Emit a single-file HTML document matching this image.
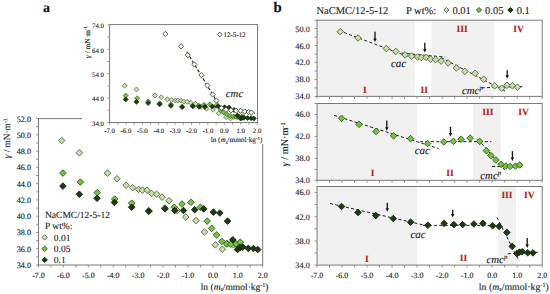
<!DOCTYPE html>
<html><head><meta charset="utf-8"><style>
html,body{margin:0;padding:0;background:#fff;width:550px;height:294px;overflow:hidden}
svg{display:block;font-family:"Liberation Serif",serif;text-rendering:geometricPrecision}
</style></head><body>
<svg width="550" height="294" viewBox="0 0 550 294">
<rect width="550" height="294" fill="#fff"/>
<text x="42.90" y="11.90" font-size="14" text-anchor="start" font-weight="bold" font-style="normal" fill="#111" stroke="#111" stroke-width="0.12" >a</text>
<rect x="38.50" y="118.60" width="224.20" height="146.40" fill="none" stroke="#7a7a7a" stroke-width="1.0"/>
<line x1="36.00" y1="265.00" x2="38.50" y2="265.00" stroke="#7a7a7a" stroke-width="0.8"/><line x1="36.00" y1="256.87" x2="38.50" y2="256.87" stroke="#7a7a7a" stroke-width="0.8"/><line x1="36.00" y1="248.73" x2="38.50" y2="248.73" stroke="#7a7a7a" stroke-width="0.8"/><line x1="36.00" y1="240.60" x2="38.50" y2="240.60" stroke="#7a7a7a" stroke-width="0.8"/><line x1="36.00" y1="232.47" x2="38.50" y2="232.47" stroke="#7a7a7a" stroke-width="0.8"/><line x1="36.00" y1="224.33" x2="38.50" y2="224.33" stroke="#7a7a7a" stroke-width="0.8"/><line x1="36.00" y1="216.20" x2="38.50" y2="216.20" stroke="#7a7a7a" stroke-width="0.8"/><line x1="36.00" y1="208.07" x2="38.50" y2="208.07" stroke="#7a7a7a" stroke-width="0.8"/><line x1="36.00" y1="199.93" x2="38.50" y2="199.93" stroke="#7a7a7a" stroke-width="0.8"/><line x1="36.00" y1="191.80" x2="38.50" y2="191.80" stroke="#7a7a7a" stroke-width="0.8"/><line x1="36.00" y1="183.67" x2="38.50" y2="183.67" stroke="#7a7a7a" stroke-width="0.8"/><line x1="36.00" y1="175.53" x2="38.50" y2="175.53" stroke="#7a7a7a" stroke-width="0.8"/><line x1="36.00" y1="167.40" x2="38.50" y2="167.40" stroke="#7a7a7a" stroke-width="0.8"/><line x1="36.00" y1="159.27" x2="38.50" y2="159.27" stroke="#7a7a7a" stroke-width="0.8"/><line x1="36.00" y1="151.13" x2="38.50" y2="151.13" stroke="#7a7a7a" stroke-width="0.8"/><line x1="36.00" y1="143.00" x2="38.50" y2="143.00" stroke="#7a7a7a" stroke-width="0.8"/><line x1="36.00" y1="134.87" x2="38.50" y2="134.87" stroke="#7a7a7a" stroke-width="0.8"/><line x1="36.00" y1="126.73" x2="38.50" y2="126.73" stroke="#7a7a7a" stroke-width="0.8"/><line x1="36.00" y1="118.60" x2="38.50" y2="118.60" stroke="#7a7a7a" stroke-width="0.8"/>
<line x1="38.50" y1="265.00" x2="38.50" y2="267.50" stroke="#7a7a7a" stroke-width="0.8"/><line x1="50.96" y1="265.00" x2="50.96" y2="267.50" stroke="#7a7a7a" stroke-width="0.8"/><line x1="63.41" y1="265.00" x2="63.41" y2="267.50" stroke="#7a7a7a" stroke-width="0.8"/><line x1="75.87" y1="265.00" x2="75.87" y2="267.50" stroke="#7a7a7a" stroke-width="0.8"/><line x1="88.32" y1="265.00" x2="88.32" y2="267.50" stroke="#7a7a7a" stroke-width="0.8"/><line x1="100.78" y1="265.00" x2="100.78" y2="267.50" stroke="#7a7a7a" stroke-width="0.8"/><line x1="113.23" y1="265.00" x2="113.23" y2="267.50" stroke="#7a7a7a" stroke-width="0.8"/><line x1="125.69" y1="265.00" x2="125.69" y2="267.50" stroke="#7a7a7a" stroke-width="0.8"/><line x1="138.14" y1="265.00" x2="138.14" y2="267.50" stroke="#7a7a7a" stroke-width="0.8"/><line x1="150.60" y1="265.00" x2="150.60" y2="267.50" stroke="#7a7a7a" stroke-width="0.8"/><line x1="163.06" y1="265.00" x2="163.06" y2="267.50" stroke="#7a7a7a" stroke-width="0.8"/><line x1="175.51" y1="265.00" x2="175.51" y2="267.50" stroke="#7a7a7a" stroke-width="0.8"/><line x1="187.97" y1="265.00" x2="187.97" y2="267.50" stroke="#7a7a7a" stroke-width="0.8"/><line x1="200.42" y1="265.00" x2="200.42" y2="267.50" stroke="#7a7a7a" stroke-width="0.8"/><line x1="212.88" y1="265.00" x2="212.88" y2="267.50" stroke="#7a7a7a" stroke-width="0.8"/><line x1="225.33" y1="265.00" x2="225.33" y2="267.50" stroke="#7a7a7a" stroke-width="0.8"/><line x1="237.79" y1="265.00" x2="237.79" y2="267.50" stroke="#7a7a7a" stroke-width="0.8"/><line x1="250.24" y1="265.00" x2="250.24" y2="267.50" stroke="#7a7a7a" stroke-width="0.8"/><line x1="262.70" y1="265.00" x2="262.70" y2="267.50" stroke="#7a7a7a" stroke-width="0.8"/>
<text x="31.00" y="267.90" font-size="8.2" text-anchor="end" font-weight="normal" font-style="normal" fill="#1a1a1a" stroke="#1a1a1a" stroke-width="0.12" >34.0</text>
<text x="31.00" y="251.63" font-size="8.2" text-anchor="end" font-weight="normal" font-style="normal" fill="#1a1a1a" stroke="#1a1a1a" stroke-width="0.12" >36.0</text>
<text x="31.00" y="235.37" font-size="8.2" text-anchor="end" font-weight="normal" font-style="normal" fill="#1a1a1a" stroke="#1a1a1a" stroke-width="0.12" >38.0</text>
<text x="31.00" y="219.10" font-size="8.2" text-anchor="end" font-weight="normal" font-style="normal" fill="#1a1a1a" stroke="#1a1a1a" stroke-width="0.12" >40.0</text>
<text x="31.00" y="202.83" font-size="8.2" text-anchor="end" font-weight="normal" font-style="normal" fill="#1a1a1a" stroke="#1a1a1a" stroke-width="0.12" >42.0</text>
<text x="31.00" y="186.57" font-size="8.2" text-anchor="end" font-weight="normal" font-style="normal" fill="#1a1a1a" stroke="#1a1a1a" stroke-width="0.12" >44.0</text>
<text x="31.00" y="170.30" font-size="8.2" text-anchor="end" font-weight="normal" font-style="normal" fill="#1a1a1a" stroke="#1a1a1a" stroke-width="0.12" >46.0</text>
<text x="31.00" y="154.03" font-size="8.2" text-anchor="end" font-weight="normal" font-style="normal" fill="#1a1a1a" stroke="#1a1a1a" stroke-width="0.12" >48.0</text>
<text x="31.00" y="137.77" font-size="8.2" text-anchor="end" font-weight="normal" font-style="normal" fill="#1a1a1a" stroke="#1a1a1a" stroke-width="0.12" >50.0</text>
<text x="31.00" y="121.50" font-size="8.2" text-anchor="end" font-weight="normal" font-style="normal" fill="#1a1a1a" stroke="#1a1a1a" stroke-width="0.12" >52.0</text>
<text x="38.50" y="277.60" font-size="8" text-anchor="middle" font-weight="normal" font-style="normal" fill="#1a1a1a" stroke="#1a1a1a" stroke-width="0.12" >-7.0</text>
<text x="63.41" y="277.60" font-size="8" text-anchor="middle" font-weight="normal" font-style="normal" fill="#1a1a1a" stroke="#1a1a1a" stroke-width="0.12" >-6.0</text>
<text x="88.32" y="277.60" font-size="8" text-anchor="middle" font-weight="normal" font-style="normal" fill="#1a1a1a" stroke="#1a1a1a" stroke-width="0.12" >-5.0</text>
<text x="113.23" y="277.60" font-size="8" text-anchor="middle" font-weight="normal" font-style="normal" fill="#1a1a1a" stroke="#1a1a1a" stroke-width="0.12" >-4.0</text>
<text x="138.14" y="277.60" font-size="8" text-anchor="middle" font-weight="normal" font-style="normal" fill="#1a1a1a" stroke="#1a1a1a" stroke-width="0.12" >-3.0</text>
<text x="163.06" y="277.60" font-size="8" text-anchor="middle" font-weight="normal" font-style="normal" fill="#1a1a1a" stroke="#1a1a1a" stroke-width="0.12" >-2.0</text>
<text x="187.97" y="277.60" font-size="8" text-anchor="middle" font-weight="normal" font-style="normal" fill="#1a1a1a" stroke="#1a1a1a" stroke-width="0.12" >-1.0</text>
<text x="212.88" y="277.60" font-size="8" text-anchor="middle" font-weight="normal" font-style="normal" fill="#1a1a1a" stroke="#1a1a1a" stroke-width="0.12" >0.0</text>
<text x="237.79" y="277.60" font-size="8" text-anchor="middle" font-weight="normal" font-style="normal" fill="#1a1a1a" stroke="#1a1a1a" stroke-width="0.12" >1.0</text>
<text x="262.70" y="277.60" font-size="8" text-anchor="middle" font-weight="normal" font-style="normal" fill="#1a1a1a" stroke="#1a1a1a" stroke-width="0.12" >2.0</text>
<text x="234.60" y="289.90" font-size="9.5" text-anchor="middle" font-weight="normal" font-style="normal" fill="#1a1a1a" stroke="#1a1a1a" stroke-width="0.12" >ln (<tspan font-style="italic">m</tspan><tspan font-size="6" dy="1.5">s</tspan><tspan dy="-1.5">/mmol·kg</tspan><tspan font-size="6" dy="-3.2">-1</tspan><tspan dy="3.2">)</tspan></text>
<g transform="translate(10.4 138.3) rotate(-90)"><text x="0.00" y="0.00" font-size="9.3" text-anchor="middle" font-weight="normal" font-style="normal" fill="#1a1a1a" stroke="#1a1a1a" stroke-width="0.12" ><tspan font-style="italic">γ</tspan> / mN·m<tspan font-size="5.9" dy="-3.2">-1</tspan></text></g>
<text x="45.00" y="217.70" font-size="9.5" text-anchor="start" font-weight="normal" font-style="normal" fill="#1a1a1a" stroke="#1a1a1a" stroke-width="0.12" >NaCMC/12-5-12</text>
<text x="45.00" y="229.10" font-size="9.5" text-anchor="start" font-weight="normal" font-style="normal" fill="#1a1a1a" stroke="#1a1a1a" stroke-width="0.12" >P wt%:</text>
<path d="M44.70 234.70L47.40 237.40L44.70 240.10L42.00 237.40Z" fill="#c6e0a4" stroke="#52654a" stroke-width="0.9"/>
<text x="53.80" y="240.50" font-size="9.5" text-anchor="start" font-weight="normal" font-style="normal" fill="#1a1a1a" stroke="#1a1a1a" stroke-width="0.12" >0.01</text>
<path d="M44.70 246.00L47.40 248.70L44.70 251.40L42.00 248.70Z" fill="#74c63c" stroke="#3a5a2a" stroke-width="0.9"/>
<text x="53.80" y="251.90" font-size="9.5" text-anchor="start" font-weight="normal" font-style="normal" fill="#1a1a1a" stroke="#1a1a1a" stroke-width="0.12" >0.05</text>
<path d="M44.70 257.20L47.40 259.90L44.70 262.60L42.00 259.90Z" fill="#1d3a12" stroke="#14260c" stroke-width="0.9"/>
<text x="53.80" y="263.30" font-size="9.5" text-anchor="start" font-weight="normal" font-style="normal" fill="#1a1a1a" stroke="#1a1a1a" stroke-width="0.12" >0.1</text>
<path d="M61.67 137.26L64.97 140.56L61.67 143.86L58.37 140.56Z" fill="#c6e0a4" stroke="#52654a" stroke-width="0.9"/>
<path d="M79.35 149.46L82.65 152.76L79.35 156.06L76.05 152.76Z" fill="#c6e0a4" stroke="#52654a" stroke-width="0.9"/>
<path d="M107.50 169.79L110.80 173.09L107.50 176.39L104.20 173.09Z" fill="#c6e0a4" stroke="#52654a" stroke-width="0.9"/>
<path d="M116.97 175.49L120.27 178.79L116.97 182.09L113.67 178.79Z" fill="#c6e0a4" stroke="#52654a" stroke-width="0.9"/>
<path d="M126.19 181.99L129.49 185.29L126.19 188.59L122.89 185.29Z" fill="#c6e0a4" stroke="#52654a" stroke-width="0.9"/>
<path d="M132.66 184.43L135.96 187.73L132.66 191.03L129.36 187.73Z" fill="#c6e0a4" stroke="#52654a" stroke-width="0.9"/>
<path d="M138.64 186.06L141.94 189.36L138.64 192.66L135.34 189.36Z" fill="#c6e0a4" stroke="#52654a" stroke-width="0.9"/>
<path d="M142.38 186.87L145.68 190.17L142.38 193.47L139.08 190.17Z" fill="#c6e0a4" stroke="#52654a" stroke-width="0.9"/>
<path d="M147.11 186.87L150.41 190.17L147.11 193.47L143.81 190.17Z" fill="#c6e0a4" stroke="#52654a" stroke-width="0.9"/>
<path d="M151.60 190.13L154.90 193.43L151.60 196.73L148.30 193.43Z" fill="#c6e0a4" stroke="#52654a" stroke-width="0.9"/>
<path d="M156.58 190.94L159.88 194.24L156.58 197.54L153.28 194.24Z" fill="#c6e0a4" stroke="#52654a" stroke-width="0.9"/>
<path d="M162.06 193.87L165.36 197.17L162.06 200.47L158.76 197.17Z" fill="#c6e0a4" stroke="#52654a" stroke-width="0.9"/>
<path d="M169.03 197.45L172.33 200.75L169.03 204.05L165.73 200.75Z" fill="#c6e0a4" stroke="#52654a" stroke-width="0.9"/>
<path d="M177.25 207.21L180.55 210.51L177.25 213.81L173.95 210.51Z" fill="#c6e0a4" stroke="#52654a" stroke-width="0.9"/>
<path d="M185.72 213.71L189.02 217.01L185.72 220.31L182.42 217.01Z" fill="#c6e0a4" stroke="#52654a" stroke-width="0.9"/>
<path d="M195.94 217.29L199.24 220.59L195.94 223.89L192.64 220.59Z" fill="#c6e0a4" stroke="#52654a" stroke-width="0.9"/>
<path d="M204.41 228.68L207.71 231.98L204.41 235.28L201.11 231.98Z" fill="#c6e0a4" stroke="#52654a" stroke-width="0.9"/>
<path d="M215.37 241.53L218.67 244.83L215.37 248.13L212.07 244.83Z" fill="#c6e0a4" stroke="#52654a" stroke-width="0.9"/>
<path d="M222.34 245.92L225.64 249.22L222.34 252.52L219.04 249.22Z" fill="#c6e0a4" stroke="#52654a" stroke-width="0.9"/>
<path d="M227.58 240.39L230.88 243.69L227.58 246.99L224.28 243.69Z" fill="#c6e0a4" stroke="#52654a" stroke-width="0.9"/>
<path d="M233.06 241.12L236.36 244.42L233.06 247.72L229.76 244.42Z" fill="#c6e0a4" stroke="#52654a" stroke-width="0.9"/>
<path d="M238.04 244.05L241.34 247.35L238.04 250.65L234.74 247.35Z" fill="#c6e0a4" stroke="#52654a" stroke-width="0.9"/>
<path d="M62.91 169.79L66.21 173.09L62.91 176.39L59.61 173.09Z" fill="#74c63c" stroke="#3a5a2a" stroke-width="0.9"/>
<path d="M80.35 178.74L83.65 182.04L80.35 185.34L77.05 182.04Z" fill="#74c63c" stroke="#3a5a2a" stroke-width="0.9"/>
<path d="M97.29 189.31L100.59 192.61L97.29 195.91L93.99 192.61Z" fill="#74c63c" stroke="#3a5a2a" stroke-width="0.9"/>
<path d="M114.73 195.82L118.03 199.12L114.73 202.42L111.43 199.12Z" fill="#74c63c" stroke="#3a5a2a" stroke-width="0.9"/>
<path d="M131.67 199.89L134.97 203.19L131.67 206.49L128.37 203.19Z" fill="#74c63c" stroke="#3a5a2a" stroke-width="0.9"/>
<path d="M148.61 207.21L151.91 210.51L148.61 213.81L145.31 210.51Z" fill="#74c63c" stroke="#3a5a2a" stroke-width="0.9"/>
<path d="M164.80 204.77L168.10 208.07L164.80 211.37L161.50 208.07Z" fill="#74c63c" stroke="#3a5a2a" stroke-width="0.9"/>
<path d="M174.27 203.95L177.57 207.25L174.27 210.55L170.97 207.25Z" fill="#74c63c" stroke="#3a5a2a" stroke-width="0.9"/>
<path d="M181.99 200.70L185.29 204.00L181.99 207.30L178.69 204.00Z" fill="#74c63c" stroke="#3a5a2a" stroke-width="0.9"/>
<path d="M190.96 199.07L194.26 202.37L190.96 205.67L187.66 202.37Z" fill="#74c63c" stroke="#3a5a2a" stroke-width="0.9"/>
<path d="M200.42 203.95L203.72 207.25L200.42 210.55L197.12 207.25Z" fill="#74c63c" stroke="#3a5a2a" stroke-width="0.9"/>
<path d="M207.15 217.78L210.45 221.08L207.15 224.38L203.85 221.08Z" fill="#74c63c" stroke="#3a5a2a" stroke-width="0.9"/>
<path d="M211.63 225.10L214.93 228.40L211.63 231.70L208.33 228.40Z" fill="#74c63c" stroke="#3a5a2a" stroke-width="0.9"/>
<path d="M216.61 231.61L219.91 234.91L216.61 238.21L213.31 234.91Z" fill="#74c63c" stroke="#3a5a2a" stroke-width="0.9"/>
<path d="M221.85 238.11L225.15 241.41L221.85 244.71L218.55 241.41Z" fill="#74c63c" stroke="#3a5a2a" stroke-width="0.9"/>
<path d="M226.58 240.55L229.88 243.85L226.58 247.15L223.28 243.85Z" fill="#74c63c" stroke="#3a5a2a" stroke-width="0.9"/>
<path d="M230.81 240.96L234.11 244.26L230.81 247.56L227.51 244.26Z" fill="#74c63c" stroke="#3a5a2a" stroke-width="0.9"/>
<path d="M236.05 240.55L239.35 243.85L236.05 247.15L232.75 243.85Z" fill="#74c63c" stroke="#3a5a2a" stroke-width="0.9"/>
<path d="M240.28 238.93L243.58 242.23L240.28 245.53L236.98 242.23Z" fill="#74c63c" stroke="#3a5a2a" stroke-width="0.9"/>
<path d="M62.91 182.81L66.21 186.11L62.91 189.41L59.61 186.11Z" fill="#1d3a12" stroke="#14260c" stroke-width="0.9"/>
<path d="M79.35 190.94L82.65 194.24L79.35 197.54L76.05 194.24Z" fill="#1d3a12" stroke="#14260c" stroke-width="0.9"/>
<path d="M97.04 195.01L100.34 198.31L97.04 201.61L93.74 198.31Z" fill="#1d3a12" stroke="#14260c" stroke-width="0.9"/>
<path d="M114.48 199.07L117.78 202.37L114.48 205.67L111.18 202.37Z" fill="#1d3a12" stroke="#14260c" stroke-width="0.9"/>
<path d="M131.67 203.95L134.97 207.25L131.67 210.55L128.37 207.25Z" fill="#1d3a12" stroke="#14260c" stroke-width="0.9"/>
<path d="M148.86 208.02L152.16 211.32L148.86 214.62L145.56 211.32Z" fill="#1d3a12" stroke="#14260c" stroke-width="0.9"/>
<path d="M165.05 205.58L168.35 208.88L165.05 212.18L161.75 208.88Z" fill="#1d3a12" stroke="#14260c" stroke-width="0.9"/>
<path d="M174.76 207.21L178.06 210.51L174.76 213.81L171.46 210.51Z" fill="#1d3a12" stroke="#14260c" stroke-width="0.9"/>
<path d="M183.48 207.21L186.78 210.51L183.48 213.81L180.18 210.51Z" fill="#1d3a12" stroke="#14260c" stroke-width="0.9"/>
<path d="M194.69 206.39L197.99 209.69L194.69 212.99L191.39 209.69Z" fill="#1d3a12" stroke="#14260c" stroke-width="0.9"/>
<path d="M203.66 205.58L206.96 208.88L203.66 212.18L200.36 208.88Z" fill="#1d3a12" stroke="#14260c" stroke-width="0.9"/>
<path d="M213.38 208.83L216.68 212.13L213.38 215.43L210.08 212.13Z" fill="#1d3a12" stroke="#14260c" stroke-width="0.9"/>
<path d="M219.85 209.65L223.15 212.95L219.85 216.25L216.55 212.95Z" fill="#1d3a12" stroke="#14260c" stroke-width="0.9"/>
<path d="M227.58 217.78L230.88 221.08L227.58 224.38L224.28 221.08Z" fill="#1d3a12" stroke="#14260c" stroke-width="0.9"/>
<path d="M232.81 236.49L236.11 239.79L232.81 243.09L229.51 239.79Z" fill="#1d3a12" stroke="#14260c" stroke-width="0.9"/>
<path d="M237.54 246.25L240.84 249.55L237.54 252.85L234.24 249.55Z" fill="#1d3a12" stroke="#14260c" stroke-width="0.9"/>
<path d="M240.03 244.21L243.33 247.51L240.03 250.81L236.73 247.51Z" fill="#1d3a12" stroke="#14260c" stroke-width="0.9"/>
<path d="M242.77 243.81L246.07 247.11L242.77 250.41L239.47 247.11Z" fill="#1d3a12" stroke="#14260c" stroke-width="0.9"/>
<path d="M248.25 245.03L251.55 248.33L248.25 251.63L244.95 248.33Z" fill="#1d3a12" stroke="#14260c" stroke-width="0.9"/>
<path d="M253.48 245.27L256.78 248.57L253.48 251.87L250.18 248.57Z" fill="#1d3a12" stroke="#14260c" stroke-width="0.9"/>
<path d="M257.72 246.25L261.02 249.55L257.72 252.85L254.42 249.55Z" fill="#1d3a12" stroke="#14260c" stroke-width="0.9"/>
<rect x="82" y="16" width="183" height="128" fill="#fff"/>
<rect x="109.6" y="24.6" width="147.9" height="97.9" fill="none" stroke="#7a7a7a" stroke-width="1"/>
<line x1="107.40" y1="122.50" x2="109.60" y2="122.50" stroke="#7a7a7a" stroke-width="0.8"/><line x1="107.40" y1="110.30" x2="109.60" y2="110.30" stroke="#7a7a7a" stroke-width="0.8"/><line x1="107.40" y1="98.10" x2="109.60" y2="98.10" stroke="#7a7a7a" stroke-width="0.8"/><line x1="107.40" y1="85.90" x2="109.60" y2="85.90" stroke="#7a7a7a" stroke-width="0.8"/><line x1="107.40" y1="73.70" x2="109.60" y2="73.70" stroke="#7a7a7a" stroke-width="0.8"/><line x1="107.40" y1="61.50" x2="109.60" y2="61.50" stroke="#7a7a7a" stroke-width="0.8"/><line x1="107.40" y1="49.30" x2="109.60" y2="49.30" stroke="#7a7a7a" stroke-width="0.8"/><line x1="107.40" y1="37.10" x2="109.60" y2="37.10" stroke="#7a7a7a" stroke-width="0.8"/><line x1="107.40" y1="24.90" x2="109.60" y2="24.90" stroke="#7a7a7a" stroke-width="0.8"/>
<line x1="109.60" y1="122.50" x2="109.60" y2="124.70" stroke="#7a7a7a" stroke-width="0.8"/><line x1="117.79" y1="122.50" x2="117.79" y2="124.70" stroke="#7a7a7a" stroke-width="0.8"/><line x1="125.99" y1="122.50" x2="125.99" y2="124.70" stroke="#7a7a7a" stroke-width="0.8"/><line x1="134.18" y1="122.50" x2="134.18" y2="124.70" stroke="#7a7a7a" stroke-width="0.8"/><line x1="142.38" y1="122.50" x2="142.38" y2="124.70" stroke="#7a7a7a" stroke-width="0.8"/><line x1="150.57" y1="122.50" x2="150.57" y2="124.70" stroke="#7a7a7a" stroke-width="0.8"/><line x1="158.77" y1="122.50" x2="158.77" y2="124.70" stroke="#7a7a7a" stroke-width="0.8"/><line x1="166.96" y1="122.50" x2="166.96" y2="124.70" stroke="#7a7a7a" stroke-width="0.8"/><line x1="175.16" y1="122.50" x2="175.16" y2="124.70" stroke="#7a7a7a" stroke-width="0.8"/><line x1="183.35" y1="122.50" x2="183.35" y2="124.70" stroke="#7a7a7a" stroke-width="0.8"/><line x1="191.54" y1="122.50" x2="191.54" y2="124.70" stroke="#7a7a7a" stroke-width="0.8"/><line x1="199.74" y1="122.50" x2="199.74" y2="124.70" stroke="#7a7a7a" stroke-width="0.8"/><line x1="207.93" y1="122.50" x2="207.93" y2="124.70" stroke="#7a7a7a" stroke-width="0.8"/><line x1="216.13" y1="122.50" x2="216.13" y2="124.70" stroke="#7a7a7a" stroke-width="0.8"/><line x1="224.32" y1="122.50" x2="224.32" y2="124.70" stroke="#7a7a7a" stroke-width="0.8"/><line x1="232.52" y1="122.50" x2="232.52" y2="124.70" stroke="#7a7a7a" stroke-width="0.8"/><line x1="240.71" y1="122.50" x2="240.71" y2="124.70" stroke="#7a7a7a" stroke-width="0.8"/><line x1="248.91" y1="122.50" x2="248.91" y2="124.70" stroke="#7a7a7a" stroke-width="0.8"/><line x1="257.10" y1="122.50" x2="257.10" y2="124.70" stroke="#7a7a7a" stroke-width="0.8"/>
<text x="104.00" y="125.70" font-size="6.8" text-anchor="end" font-weight="normal" font-style="normal" fill="#1a1a1a" stroke="#1a1a1a" stroke-width="0.12" >34.0</text>
<text x="104.00" y="101.30" font-size="6.8" text-anchor="end" font-weight="normal" font-style="normal" fill="#1a1a1a" stroke="#1a1a1a" stroke-width="0.12" >44.0</text>
<text x="104.00" y="76.90" font-size="6.8" text-anchor="end" font-weight="normal" font-style="normal" fill="#1a1a1a" stroke="#1a1a1a" stroke-width="0.12" >54.0</text>
<text x="104.00" y="52.50" font-size="6.8" text-anchor="end" font-weight="normal" font-style="normal" fill="#1a1a1a" stroke="#1a1a1a" stroke-width="0.12" >64.0</text>
<text x="104.00" y="28.10" font-size="6.8" text-anchor="end" font-weight="normal" font-style="normal" fill="#1a1a1a" stroke="#1a1a1a" stroke-width="0.12" >74.0</text>
<text x="109.60" y="133.30" font-size="6.8" text-anchor="middle" font-weight="normal" font-style="normal" fill="#1a1a1a" stroke="#1a1a1a" stroke-width="0.12" >-7.0</text>
<text x="125.99" y="133.30" font-size="6.8" text-anchor="middle" font-weight="normal" font-style="normal" fill="#1a1a1a" stroke="#1a1a1a" stroke-width="0.12" >-6.0</text>
<text x="142.38" y="133.30" font-size="6.8" text-anchor="middle" font-weight="normal" font-style="normal" fill="#1a1a1a" stroke="#1a1a1a" stroke-width="0.12" >-5.0</text>
<text x="158.77" y="133.30" font-size="6.8" text-anchor="middle" font-weight="normal" font-style="normal" fill="#1a1a1a" stroke="#1a1a1a" stroke-width="0.12" >-4.0</text>
<text x="175.16" y="133.30" font-size="6.8" text-anchor="middle" font-weight="normal" font-style="normal" fill="#1a1a1a" stroke="#1a1a1a" stroke-width="0.12" >-3.0</text>
<text x="191.54" y="133.30" font-size="6.8" text-anchor="middle" font-weight="normal" font-style="normal" fill="#1a1a1a" stroke="#1a1a1a" stroke-width="0.12" >-2.0</text>
<text x="207.93" y="133.30" font-size="6.8" text-anchor="middle" font-weight="normal" font-style="normal" fill="#1a1a1a" stroke="#1a1a1a" stroke-width="0.12" >-1.0</text>
<text x="224.32" y="133.30" font-size="6.8" text-anchor="middle" font-weight="normal" font-style="normal" fill="#1a1a1a" stroke="#1a1a1a" stroke-width="0.12" >0.0</text>
<text x="240.71" y="133.30" font-size="6.8" text-anchor="middle" font-weight="normal" font-style="normal" fill="#1a1a1a" stroke="#1a1a1a" stroke-width="0.12" >1.0</text>
<text x="257.10" y="133.30" font-size="6.8" text-anchor="middle" font-weight="normal" font-style="normal" fill="#1a1a1a" stroke="#1a1a1a" stroke-width="0.12" >2.0</text>
<text x="236.60" y="142.20" font-size="7.2" text-anchor="middle" font-weight="normal" font-style="normal" fill="#1a1a1a" stroke="#1a1a1a" stroke-width="0.12" >ln (<tspan font-style="italic">m</tspan><tspan font-size="4.9" dy="1.3">s</tspan><tspan dy="-1.3">/mmol·kg</tspan><tspan font-size="4.9" dy="-2.7">-1</tspan><tspan dy="2.7">)</tspan></text>
<g transform="translate(89.8 42) rotate(-90)"><text x="0.00" y="0.00" font-size="7.4" text-anchor="middle" font-weight="normal" font-style="normal" fill="#1a1a1a" stroke="#1a1a1a" stroke-width="0.12" ><tspan font-style="italic">γ</tspan> / mN·m<tspan font-size="5" dy="-2.7">-1</tspan></text></g>
<path d="M219.80 32.10L222.20 34.50L219.80 36.90L217.40 34.50Z" fill="#ffffff" stroke="#4a5e3e" stroke-width="1.0"/>
<text x="223.50" y="36.50" font-size="7" text-anchor="start" font-weight="normal" font-style="normal" fill="#1a1a1a" stroke="#1a1a1a" stroke-width="0.12" >12-5-12</text>
<path d="M124.84 83.27L127.34 85.77L124.84 88.27L122.34 85.77Z" fill="#c6e0a4" stroke="#52654a" stroke-width="0.7"/>
<path d="M136.48 86.93L138.98 89.43L136.48 91.93L133.98 89.43Z" fill="#c6e0a4" stroke="#52654a" stroke-width="0.7"/>
<path d="M155.00 93.03L157.50 95.53L155.00 98.03L152.50 95.53Z" fill="#c6e0a4" stroke="#52654a" stroke-width="0.7"/>
<path d="M161.22 94.74L163.72 97.24L161.22 99.74L158.72 97.24Z" fill="#c6e0a4" stroke="#52654a" stroke-width="0.7"/>
<path d="M167.29 96.69L169.79 99.19L167.29 101.69L164.79 99.19Z" fill="#c6e0a4" stroke="#52654a" stroke-width="0.7"/>
<path d="M171.55 97.42L174.05 99.92L171.55 102.42L169.05 99.92Z" fill="#c6e0a4" stroke="#52654a" stroke-width="0.7"/>
<path d="M175.48 97.91L177.98 100.41L175.48 102.91L172.98 100.41Z" fill="#c6e0a4" stroke="#52654a" stroke-width="0.7"/>
<path d="M177.94 98.15L180.44 100.65L177.94 103.15L175.44 100.65Z" fill="#c6e0a4" stroke="#52654a" stroke-width="0.7"/>
<path d="M181.06 98.15L183.56 100.65L181.06 103.15L178.56 100.65Z" fill="#c6e0a4" stroke="#52654a" stroke-width="0.7"/>
<path d="M184.01 99.13L186.51 101.63L184.01 104.13L181.51 101.63Z" fill="#c6e0a4" stroke="#52654a" stroke-width="0.7"/>
<path d="M187.28 99.37L189.78 101.87L187.28 104.37L184.78 101.87Z" fill="#c6e0a4" stroke="#52654a" stroke-width="0.7"/>
<path d="M190.89 100.25L193.39 102.75L190.89 105.25L188.39 102.75Z" fill="#c6e0a4" stroke="#52654a" stroke-width="0.7"/>
<path d="M195.48 101.32L197.98 103.82L195.48 106.32L192.98 103.82Z" fill="#c6e0a4" stroke="#52654a" stroke-width="0.7"/>
<path d="M200.89 104.25L203.39 106.75L200.89 109.25L198.39 106.75Z" fill="#c6e0a4" stroke="#52654a" stroke-width="0.7"/>
<path d="M206.46 106.20L208.96 108.70L206.46 111.20L203.96 108.70Z" fill="#c6e0a4" stroke="#52654a" stroke-width="0.7"/>
<path d="M213.18 107.28L215.68 109.78L213.18 112.28L210.68 109.78Z" fill="#c6e0a4" stroke="#52654a" stroke-width="0.7"/>
<path d="M218.75 110.69L221.25 113.19L218.75 115.69L216.25 113.19Z" fill="#c6e0a4" stroke="#52654a" stroke-width="0.7"/>
<path d="M225.96 114.55L228.46 117.05L225.96 119.55L223.46 117.05Z" fill="#c6e0a4" stroke="#52654a" stroke-width="0.7"/>
<path d="M230.55 115.87L233.05 118.37L230.55 120.87L228.05 118.37Z" fill="#c6e0a4" stroke="#52654a" stroke-width="0.7"/>
<path d="M233.99 114.21L236.49 116.71L233.99 119.21L231.49 116.71Z" fill="#c6e0a4" stroke="#52654a" stroke-width="0.7"/>
<path d="M237.60 114.43L240.10 116.93L237.60 119.43L235.10 116.93Z" fill="#c6e0a4" stroke="#52654a" stroke-width="0.7"/>
<path d="M240.88 115.31L243.38 117.81L240.88 120.31L238.38 117.81Z" fill="#c6e0a4" stroke="#52654a" stroke-width="0.7"/>
<path d="M125.66 93.03L128.16 95.53L125.66 98.03L123.16 95.53Z" fill="#74c63c" stroke="#3a5a2a" stroke-width="0.7"/>
<path d="M137.13 95.71L139.63 98.21L137.13 100.71L134.63 98.21Z" fill="#74c63c" stroke="#3a5a2a" stroke-width="0.7"/>
<path d="M148.28 98.88L150.78 101.38L148.28 103.88L145.78 101.38Z" fill="#74c63c" stroke="#3a5a2a" stroke-width="0.7"/>
<path d="M159.75 100.84L162.25 103.34L159.75 105.84L157.25 103.34Z" fill="#74c63c" stroke="#3a5a2a" stroke-width="0.7"/>
<path d="M170.89 102.06L173.39 104.56L170.89 107.06L168.39 104.56Z" fill="#74c63c" stroke="#3a5a2a" stroke-width="0.7"/>
<path d="M182.04 104.25L184.54 106.75L182.04 109.25L179.54 106.75Z" fill="#74c63c" stroke="#3a5a2a" stroke-width="0.7"/>
<path d="M192.69 103.52L195.19 106.02L192.69 108.52L190.19 106.02Z" fill="#74c63c" stroke="#3a5a2a" stroke-width="0.7"/>
<path d="M198.92 103.28L201.42 105.78L198.92 108.28L196.42 105.78Z" fill="#74c63c" stroke="#3a5a2a" stroke-width="0.7"/>
<path d="M204.00 102.30L206.50 104.80L204.00 107.30L201.50 104.80Z" fill="#74c63c" stroke="#3a5a2a" stroke-width="0.7"/>
<path d="M209.90 101.81L212.40 104.31L209.90 106.81L207.40 104.31Z" fill="#74c63c" stroke="#3a5a2a" stroke-width="0.7"/>
<path d="M216.13 103.28L218.63 105.78L216.13 108.28L213.63 105.78Z" fill="#74c63c" stroke="#3a5a2a" stroke-width="0.7"/>
<path d="M220.55 107.42L223.05 109.92L220.55 112.42L218.05 109.92Z" fill="#74c63c" stroke="#3a5a2a" stroke-width="0.7"/>
<path d="M223.50 109.62L226.00 112.12L223.50 114.62L221.00 112.12Z" fill="#74c63c" stroke="#3a5a2a" stroke-width="0.7"/>
<path d="M226.78 111.57L229.28 114.07L226.78 116.57L224.28 114.07Z" fill="#74c63c" stroke="#3a5a2a" stroke-width="0.7"/>
<path d="M230.22 113.52L232.72 116.02L230.22 118.52L227.72 116.02Z" fill="#74c63c" stroke="#3a5a2a" stroke-width="0.7"/>
<path d="M233.34 114.26L235.84 116.76L233.34 119.26L230.84 116.76Z" fill="#74c63c" stroke="#3a5a2a" stroke-width="0.7"/>
<path d="M236.12 114.38L238.62 116.88L236.12 119.38L233.62 116.88Z" fill="#74c63c" stroke="#3a5a2a" stroke-width="0.7"/>
<path d="M239.56 114.26L242.06 116.76L239.56 119.26L237.06 116.76Z" fill="#74c63c" stroke="#3a5a2a" stroke-width="0.7"/>
<path d="M242.35 113.77L244.85 116.27L242.35 118.77L239.85 116.27Z" fill="#74c63c" stroke="#3a5a2a" stroke-width="0.7"/>
<path d="M125.66 96.93L128.16 99.43L125.66 101.93L123.16 99.43Z" fill="#1d3a12" stroke="#14260c" stroke-width="0.7"/>
<path d="M136.48 99.37L138.98 101.87L136.48 104.37L133.98 101.87Z" fill="#1d3a12" stroke="#14260c" stroke-width="0.7"/>
<path d="M148.11 100.59L150.61 103.09L148.11 105.59L145.61 103.09Z" fill="#1d3a12" stroke="#14260c" stroke-width="0.7"/>
<path d="M159.59 101.81L162.09 104.31L159.59 106.81L157.09 104.31Z" fill="#1d3a12" stroke="#14260c" stroke-width="0.7"/>
<path d="M170.89 103.28L173.39 105.78L170.89 108.28L168.39 105.78Z" fill="#1d3a12" stroke="#14260c" stroke-width="0.7"/>
<path d="M182.20 104.50L184.70 107.00L182.20 109.50L179.70 107.00Z" fill="#1d3a12" stroke="#14260c" stroke-width="0.7"/>
<path d="M192.86 103.76L195.36 106.26L192.86 108.76L190.36 106.26Z" fill="#1d3a12" stroke="#14260c" stroke-width="0.7"/>
<path d="M199.25 104.25L201.75 106.75L199.25 109.25L196.75 106.75Z" fill="#1d3a12" stroke="#14260c" stroke-width="0.7"/>
<path d="M204.98 104.25L207.48 106.75L204.98 109.25L202.48 106.75Z" fill="#1d3a12" stroke="#14260c" stroke-width="0.7"/>
<path d="M212.36 104.01L214.86 106.51L212.36 109.01L209.86 106.51Z" fill="#1d3a12" stroke="#14260c" stroke-width="0.7"/>
<path d="M218.26 103.76L220.76 106.26L218.26 108.76L215.76 106.26Z" fill="#1d3a12" stroke="#14260c" stroke-width="0.7"/>
<path d="M224.65 104.74L227.15 107.24L224.65 109.74L222.15 107.24Z" fill="#1d3a12" stroke="#14260c" stroke-width="0.7"/>
<path d="M228.91 104.98L231.41 107.48L228.91 109.98L226.41 107.48Z" fill="#1d3a12" stroke="#14260c" stroke-width="0.7"/>
<path d="M233.99 107.42L236.49 109.92L233.99 112.42L231.49 109.92Z" fill="#1d3a12" stroke="#14260c" stroke-width="0.7"/>
<path d="M237.43 113.04L239.93 115.54L237.43 118.04L234.93 115.54Z" fill="#1d3a12" stroke="#14260c" stroke-width="0.7"/>
<path d="M240.55 115.96L243.05 118.46L240.55 120.96L238.05 118.46Z" fill="#1d3a12" stroke="#14260c" stroke-width="0.7"/>
<path d="M242.19 115.35L244.69 117.85L242.19 120.35L239.69 117.85Z" fill="#1d3a12" stroke="#14260c" stroke-width="0.7"/>
<path d="M243.99 115.23L246.49 117.73L243.99 120.23L241.49 117.73Z" fill="#1d3a12" stroke="#14260c" stroke-width="0.7"/>
<path d="M247.59 115.60L250.09 118.10L247.59 120.60L245.09 118.10Z" fill="#1d3a12" stroke="#14260c" stroke-width="0.7"/>
<path d="M251.04 115.67L253.54 118.17L251.04 120.67L248.54 118.17Z" fill="#1d3a12" stroke="#14260c" stroke-width="0.7"/>
<path d="M253.82 115.96L256.32 118.46L253.82 120.96L251.32 118.46Z" fill="#1d3a12" stroke="#14260c" stroke-width="0.7"/>
<line x1="186.8" y1="51.8" x2="222" y2="110" stroke="#1a1a1a" stroke-width="1.1" stroke-dasharray="3.2 2"/>
<line x1="213" y1="106.5" x2="255" y2="113.2" stroke="#1a1a1a" stroke-width="1.1" stroke-dasharray="3.2 2"/>
<path d="M165.32 31.33L167.92 33.93L165.32 36.53L162.72 33.93Z" fill="#ffffff" stroke="#4a5e3e" stroke-width="1.0"/>
<path d="M181.06 43.77L183.66 46.37L181.06 48.97L178.46 46.37Z" fill="#ffffff" stroke="#4a5e3e" stroke-width="1.0"/>
<path d="M187.78 52.56L190.38 55.16L187.78 57.76L185.18 55.16Z" fill="#ffffff" stroke="#4a5e3e" stroke-width="1.0"/>
<path d="M194.33 61.83L196.93 64.43L194.33 67.03L191.73 64.43Z" fill="#ffffff" stroke="#4a5e3e" stroke-width="1.0"/>
<path d="M201.38 72.56L203.98 75.16L201.38 77.76L198.78 75.16Z" fill="#ffffff" stroke="#4a5e3e" stroke-width="1.0"/>
<path d="M207.44 82.81L210.04 85.41L207.44 88.01L204.84 85.41Z" fill="#ffffff" stroke="#4a5e3e" stroke-width="1.0"/>
<path d="M212.69 91.84L215.29 94.44L212.69 97.04L210.09 94.44Z" fill="#ffffff" stroke="#4a5e3e" stroke-width="1.0"/>
<path d="M216.46 97.94L219.06 100.54L216.46 103.14L213.86 100.54Z" fill="#ffffff" stroke="#4a5e3e" stroke-width="1.0"/>
<path d="M221.54 105.50L224.14 108.10L221.54 110.70L218.94 108.10Z" fill="#ffffff" stroke="#4a5e3e" stroke-width="1.0"/>
<path d="M225.96 107.21L228.56 109.81L225.96 112.41L223.36 109.81Z" fill="#ffffff" stroke="#4a5e3e" stroke-width="1.0"/>
<path d="M231.04 107.70L233.64 110.30L231.04 112.90L228.44 110.30Z" fill="#ffffff" stroke="#4a5e3e" stroke-width="1.0"/>
<path d="M236.12 108.19L238.72 110.79L236.12 113.39L233.52 110.79Z" fill="#ffffff" stroke="#4a5e3e" stroke-width="1.0"/>
<path d="M240.71 108.19L243.31 110.79L240.71 113.39L238.11 110.79Z" fill="#ffffff" stroke="#4a5e3e" stroke-width="1.0"/>
<path d="M244.64 108.92L247.24 111.52L244.64 114.12L242.04 111.52Z" fill="#ffffff" stroke="#4a5e3e" stroke-width="1.0"/>
<path d="M248.58 109.41L251.18 112.01L248.58 114.61L245.98 112.01Z" fill="#ffffff" stroke="#4a5e3e" stroke-width="1.0"/>
<path d="M251.36 109.90L253.96 112.50L251.36 115.10L248.76 112.50Z" fill="#ffffff" stroke="#4a5e3e" stroke-width="1.0"/>
<text x="234.50" y="97.40" font-size="10.8" text-anchor="middle" font-weight="normal" font-style="italic" fill="#1a1a1a" stroke="#1a1a1a" stroke-width="0.12" >cmc</text>
<text x="273.60" y="12.20" font-size="14.8" text-anchor="start" font-weight="bold" font-style="normal" fill="#111" stroke="#111" stroke-width="0.12" >b</text>
<text x="316.50" y="13.50" font-size="10.5" text-anchor="start" font-weight="normal" font-style="normal" fill="#1a1a1a" stroke="#1a1a1a" stroke-width="0.12" >NaCMC/12-5-12</text>
<text x="406.00" y="13.50" font-size="10.5" text-anchor="start" font-weight="normal" font-style="normal" fill="#1a1a1a" stroke="#1a1a1a" stroke-width="0.12" >P wt%:</text>
<path d="M446.40 7.40L449.00 10.00L446.40 12.60L443.80 10.00Z" fill="#c6e0a4" stroke="#52654a" stroke-width="0.9"/>
<text x="452.40" y="13.50" font-size="10.5" text-anchor="start" font-weight="normal" font-style="normal" fill="#1a1a1a" stroke="#1a1a1a" stroke-width="0.12" >0.01</text>
<path d="M479.00 7.40L481.60 10.00L479.00 12.60L476.40 10.00Z" fill="#74c63c" stroke="#3a5a2a" stroke-width="0.9"/>
<text x="485.00" y="13.50" font-size="10.5" text-anchor="start" font-weight="normal" font-style="normal" fill="#1a1a1a" stroke="#1a1a1a" stroke-width="0.12" >0.05</text>
<path d="M510.40 7.40L513.00 10.00L510.40 12.60L507.80 10.00Z" fill="#1d3a12" stroke="#14260c" stroke-width="0.9"/>
<text x="516.70" y="13.50" font-size="10.5" text-anchor="start" font-weight="normal" font-style="normal" fill="#1a1a1a" stroke="#1a1a1a" stroke-width="0.12" >0.1</text>
<rect x="317.00" y="20.20" width="97.80" height="76.20" fill="#f1f1f1"/>
<rect x="431.60" y="20.20" width="62.40" height="76.20" fill="#f1f1f1"/>
<rect x="317.00" y="20.20" width="225.20" height="76.20" fill="none" stroke="#7a7a7a" stroke-width="1.0"/>
<line x1="314.50" y1="96.40" x2="317.00" y2="96.40" stroke="#7a7a7a" stroke-width="0.8"/><line x1="314.50" y1="87.93" x2="317.00" y2="87.93" stroke="#7a7a7a" stroke-width="0.8"/><line x1="314.50" y1="79.47" x2="317.00" y2="79.47" stroke="#7a7a7a" stroke-width="0.8"/><line x1="314.50" y1="71.00" x2="317.00" y2="71.00" stroke="#7a7a7a" stroke-width="0.8"/><line x1="314.50" y1="62.53" x2="317.00" y2="62.53" stroke="#7a7a7a" stroke-width="0.8"/><line x1="314.50" y1="54.07" x2="317.00" y2="54.07" stroke="#7a7a7a" stroke-width="0.8"/><line x1="314.50" y1="45.60" x2="317.00" y2="45.60" stroke="#7a7a7a" stroke-width="0.8"/><line x1="314.50" y1="37.13" x2="317.00" y2="37.13" stroke="#7a7a7a" stroke-width="0.8"/><line x1="314.50" y1="28.67" x2="317.00" y2="28.67" stroke="#7a7a7a" stroke-width="0.8"/><line x1="314.50" y1="20.20" x2="317.00" y2="20.20" stroke="#7a7a7a" stroke-width="0.8"/>
<line x1="317.00" y1="96.40" x2="317.00" y2="98.90" stroke="#7a7a7a" stroke-width="0.8"/><line x1="329.51" y1="96.40" x2="329.51" y2="98.90" stroke="#7a7a7a" stroke-width="0.8"/><line x1="342.02" y1="96.40" x2="342.02" y2="98.90" stroke="#7a7a7a" stroke-width="0.8"/><line x1="354.53" y1="96.40" x2="354.53" y2="98.90" stroke="#7a7a7a" stroke-width="0.8"/><line x1="367.04" y1="96.40" x2="367.04" y2="98.90" stroke="#7a7a7a" stroke-width="0.8"/><line x1="379.56" y1="96.40" x2="379.56" y2="98.90" stroke="#7a7a7a" stroke-width="0.8"/><line x1="392.07" y1="96.40" x2="392.07" y2="98.90" stroke="#7a7a7a" stroke-width="0.8"/><line x1="404.58" y1="96.40" x2="404.58" y2="98.90" stroke="#7a7a7a" stroke-width="0.8"/><line x1="417.09" y1="96.40" x2="417.09" y2="98.90" stroke="#7a7a7a" stroke-width="0.8"/><line x1="429.60" y1="96.40" x2="429.60" y2="98.90" stroke="#7a7a7a" stroke-width="0.8"/><line x1="442.11" y1="96.40" x2="442.11" y2="98.90" stroke="#7a7a7a" stroke-width="0.8"/><line x1="454.62" y1="96.40" x2="454.62" y2="98.90" stroke="#7a7a7a" stroke-width="0.8"/><line x1="467.13" y1="96.40" x2="467.13" y2="98.90" stroke="#7a7a7a" stroke-width="0.8"/><line x1="479.64" y1="96.40" x2="479.64" y2="98.90" stroke="#7a7a7a" stroke-width="0.8"/><line x1="492.16" y1="96.40" x2="492.16" y2="98.90" stroke="#7a7a7a" stroke-width="0.8"/><line x1="504.67" y1="96.40" x2="504.67" y2="98.90" stroke="#7a7a7a" stroke-width="0.8"/><line x1="517.18" y1="96.40" x2="517.18" y2="98.90" stroke="#7a7a7a" stroke-width="0.8"/><line x1="529.69" y1="96.40" x2="529.69" y2="98.90" stroke="#7a7a7a" stroke-width="0.8"/><line x1="542.20" y1="96.40" x2="542.20" y2="98.90" stroke="#7a7a7a" stroke-width="0.8"/>
<text x="309.80" y="99.30" font-size="8.3" text-anchor="end" font-weight="normal" font-style="normal" fill="#1a1a1a" stroke="#1a1a1a" stroke-width="0.12" >34.0</text>
<text x="309.80" y="82.37" font-size="8.3" text-anchor="end" font-weight="normal" font-style="normal" fill="#1a1a1a" stroke="#1a1a1a" stroke-width="0.12" >38.0</text>
<text x="309.80" y="65.43" font-size="8.3" text-anchor="end" font-weight="normal" font-style="normal" fill="#1a1a1a" stroke="#1a1a1a" stroke-width="0.12" >42.0</text>
<text x="309.80" y="48.50" font-size="8.3" text-anchor="end" font-weight="normal" font-style="normal" fill="#1a1a1a" stroke="#1a1a1a" stroke-width="0.12" >46.0</text>
<text x="309.80" y="31.57" font-size="8.3" text-anchor="end" font-weight="normal" font-style="normal" fill="#1a1a1a" stroke="#1a1a1a" stroke-width="0.12" >50.0</text>
<line x1="338.90" y1="30.60" x2="414.60" y2="59.00" stroke="#222" stroke-width="1" stroke-dasharray="3.2 2.2"/>
<line x1="401.60" y1="53.10" x2="445.30" y2="57.10" stroke="#222" stroke-width="1" stroke-dasharray="3.2 2.2"/>
<line x1="441.00" y1="57.50" x2="505.00" y2="91.00" stroke="#222" stroke-width="1" stroke-dasharray="3.2 2.2"/>
<line x1="481.50" y1="87.80" x2="524.00" y2="86.50" stroke="#222" stroke-width="1" stroke-dasharray="3.2 2.2"/>
<line x1="375" y1="31.8" x2="375" y2="39.1" stroke="#111" stroke-width="1.3"/>
<path d="M373.3 38.4L376.7 38.4L375 41.9Z" fill="#111"/>
<line x1="424.8" y1="42.8" x2="424.8" y2="49.8" stroke="#111" stroke-width="1.3"/>
<path d="M423.1 49.099999999999994L426.5 49.099999999999994L424.8 52.599999999999994Z" fill="#111"/>
<line x1="507.2" y1="70.2" x2="507.2" y2="76.0" stroke="#111" stroke-width="1.3"/>
<path d="M505.5 75.3L508.9 75.3L507.2 78.8Z" fill="#111"/>
<text x="364.80" y="93.20" font-size="9.6" text-anchor="middle" font-weight="bold" font-style="normal" fill="#b81c1c" stroke="#b81c1c" stroke-width="0.12" >I</text>
<text x="424.20" y="93.20" font-size="9.6" text-anchor="middle" font-weight="bold" font-style="normal" fill="#b81c1c" stroke="#b81c1c" stroke-width="0.12" >II</text>
<text x="462.20" y="31.50" font-size="9.6" text-anchor="middle" font-weight="bold" font-style="normal" fill="#b81c1c" stroke="#b81c1c" stroke-width="0.12" >III</text>
<text x="518.60" y="31.50" font-size="9.6" text-anchor="middle" font-weight="bold" font-style="normal" fill="#b81c1c" stroke="#b81c1c" stroke-width="0.12" >IV</text>
<text x="398.60" y="66.90" font-size="11" text-anchor="middle" font-weight="normal" font-style="italic" fill="#1a1a1a" stroke="#1a1a1a" stroke-width="0.12" >cac</text>
<text x="462.00" y="93.50" font-size="10.8" text-anchor="start" font-weight="normal" font-style="italic" fill="#1a1a1a" stroke="#1a1a1a" stroke-width="0.12" >cmc<tspan font-size="6.8" dy="-4">p</tspan></text>
<path d="M340.27 28.33L343.57 31.63L340.27 34.93L336.97 31.63Z" fill="#c6e0a4" stroke="#52654a" stroke-width="0.9"/>
<path d="M358.04 34.68L361.34 37.98L358.04 41.28L354.74 37.98Z" fill="#c6e0a4" stroke="#52654a" stroke-width="0.9"/>
<path d="M386.31 45.26L389.61 48.56L386.31 51.86L383.01 48.56Z" fill="#c6e0a4" stroke="#52654a" stroke-width="0.9"/>
<path d="M395.82 48.23L399.12 51.53L395.82 54.83L392.52 51.53Z" fill="#c6e0a4" stroke="#52654a" stroke-width="0.9"/>
<path d="M405.08 51.61L408.38 54.91L405.08 58.21L401.78 54.91Z" fill="#c6e0a4" stroke="#52654a" stroke-width="0.9"/>
<path d="M411.58 52.88L414.88 56.18L411.58 59.48L408.28 56.18Z" fill="#c6e0a4" stroke="#52654a" stroke-width="0.9"/>
<path d="M417.59 53.73L420.89 57.03L417.59 60.33L414.29 57.03Z" fill="#c6e0a4" stroke="#52654a" stroke-width="0.9"/>
<path d="M421.34 54.15L424.64 57.45L421.34 60.75L418.04 57.45Z" fill="#c6e0a4" stroke="#52654a" stroke-width="0.9"/>
<path d="M426.10 54.15L429.40 57.45L426.10 60.75L422.80 57.45Z" fill="#c6e0a4" stroke="#52654a" stroke-width="0.9"/>
<path d="M430.60 55.85L433.90 59.15L430.60 62.45L427.30 59.15Z" fill="#c6e0a4" stroke="#52654a" stroke-width="0.9"/>
<path d="M435.61 56.27L438.91 59.57L435.61 62.87L432.31 59.57Z" fill="#c6e0a4" stroke="#52654a" stroke-width="0.9"/>
<path d="M441.11 57.79L444.41 61.09L441.11 64.39L437.81 61.09Z" fill="#c6e0a4" stroke="#52654a" stroke-width="0.9"/>
<path d="M448.12 59.66L451.42 62.96L448.12 66.26L444.82 62.96Z" fill="#c6e0a4" stroke="#52654a" stroke-width="0.9"/>
<path d="M456.37 64.74L459.67 68.04L456.37 71.34L453.07 68.04Z" fill="#c6e0a4" stroke="#52654a" stroke-width="0.9"/>
<path d="M464.88 68.12L468.18 71.42L464.88 74.72L461.58 71.42Z" fill="#c6e0a4" stroke="#52654a" stroke-width="0.9"/>
<path d="M475.14 69.99L478.44 73.29L475.14 76.59L471.84 73.29Z" fill="#c6e0a4" stroke="#52654a" stroke-width="0.9"/>
<path d="M483.65 75.91L486.95 79.21L483.65 82.51L480.35 79.21Z" fill="#c6e0a4" stroke="#52654a" stroke-width="0.9"/>
<path d="M494.66 82.60L497.96 85.90L494.66 89.20L491.36 85.90Z" fill="#c6e0a4" stroke="#52654a" stroke-width="0.9"/>
<path d="M501.66 84.89L504.96 88.19L501.66 91.49L498.36 88.19Z" fill="#c6e0a4" stroke="#52654a" stroke-width="0.9"/>
<path d="M506.92 82.01L510.22 85.31L506.92 88.61L503.62 85.31Z" fill="#c6e0a4" stroke="#52654a" stroke-width="0.9"/>
<path d="M512.42 82.39L515.72 85.69L512.42 88.99L509.12 85.69Z" fill="#c6e0a4" stroke="#52654a" stroke-width="0.9"/>
<path d="M517.43 83.91L520.73 87.21L517.43 90.51L514.13 87.21Z" fill="#c6e0a4" stroke="#52654a" stroke-width="0.9"/>
<rect x="317.00" y="103.50" width="100.30" height="76.80" fill="#f1f1f1"/>
<rect x="473.00" y="103.50" width="28.00" height="76.80" fill="#f1f1f1"/>
<rect x="317.00" y="103.50" width="225.20" height="76.80" fill="none" stroke="#7a7a7a" stroke-width="1.0"/>
<line x1="314.50" y1="180.30" x2="317.00" y2="180.30" stroke="#7a7a7a" stroke-width="0.8"/><line x1="314.50" y1="169.33" x2="317.00" y2="169.33" stroke="#7a7a7a" stroke-width="0.8"/><line x1="314.50" y1="158.36" x2="317.00" y2="158.36" stroke="#7a7a7a" stroke-width="0.8"/><line x1="314.50" y1="147.39" x2="317.00" y2="147.39" stroke="#7a7a7a" stroke-width="0.8"/><line x1="314.50" y1="136.41" x2="317.00" y2="136.41" stroke="#7a7a7a" stroke-width="0.8"/><line x1="314.50" y1="125.44" x2="317.00" y2="125.44" stroke="#7a7a7a" stroke-width="0.8"/><line x1="314.50" y1="114.47" x2="317.00" y2="114.47" stroke="#7a7a7a" stroke-width="0.8"/><line x1="314.50" y1="103.50" x2="317.00" y2="103.50" stroke="#7a7a7a" stroke-width="0.8"/>
<line x1="317.00" y1="180.30" x2="317.00" y2="182.80" stroke="#7a7a7a" stroke-width="0.8"/><line x1="329.51" y1="180.30" x2="329.51" y2="182.80" stroke="#7a7a7a" stroke-width="0.8"/><line x1="342.02" y1="180.30" x2="342.02" y2="182.80" stroke="#7a7a7a" stroke-width="0.8"/><line x1="354.53" y1="180.30" x2="354.53" y2="182.80" stroke="#7a7a7a" stroke-width="0.8"/><line x1="367.04" y1="180.30" x2="367.04" y2="182.80" stroke="#7a7a7a" stroke-width="0.8"/><line x1="379.56" y1="180.30" x2="379.56" y2="182.80" stroke="#7a7a7a" stroke-width="0.8"/><line x1="392.07" y1="180.30" x2="392.07" y2="182.80" stroke="#7a7a7a" stroke-width="0.8"/><line x1="404.58" y1="180.30" x2="404.58" y2="182.80" stroke="#7a7a7a" stroke-width="0.8"/><line x1="417.09" y1="180.30" x2="417.09" y2="182.80" stroke="#7a7a7a" stroke-width="0.8"/><line x1="429.60" y1="180.30" x2="429.60" y2="182.80" stroke="#7a7a7a" stroke-width="0.8"/><line x1="442.11" y1="180.30" x2="442.11" y2="182.80" stroke="#7a7a7a" stroke-width="0.8"/><line x1="454.62" y1="180.30" x2="454.62" y2="182.80" stroke="#7a7a7a" stroke-width="0.8"/><line x1="467.13" y1="180.30" x2="467.13" y2="182.80" stroke="#7a7a7a" stroke-width="0.8"/><line x1="479.64" y1="180.30" x2="479.64" y2="182.80" stroke="#7a7a7a" stroke-width="0.8"/><line x1="492.16" y1="180.30" x2="492.16" y2="182.80" stroke="#7a7a7a" stroke-width="0.8"/><line x1="504.67" y1="180.30" x2="504.67" y2="182.80" stroke="#7a7a7a" stroke-width="0.8"/><line x1="517.18" y1="180.30" x2="517.18" y2="182.80" stroke="#7a7a7a" stroke-width="0.8"/><line x1="529.69" y1="180.30" x2="529.69" y2="182.80" stroke="#7a7a7a" stroke-width="0.8"/><line x1="542.20" y1="180.30" x2="542.20" y2="182.80" stroke="#7a7a7a" stroke-width="0.8"/>
<text x="309.80" y="183.20" font-size="8.3" text-anchor="end" font-weight="normal" font-style="normal" fill="#1a1a1a" stroke="#1a1a1a" stroke-width="0.12" >34.0</text>
<text x="309.80" y="161.26" font-size="8.3" text-anchor="end" font-weight="normal" font-style="normal" fill="#1a1a1a" stroke="#1a1a1a" stroke-width="0.12" >38.0</text>
<text x="309.80" y="139.31" font-size="8.3" text-anchor="end" font-weight="normal" font-style="normal" fill="#1a1a1a" stroke="#1a1a1a" stroke-width="0.12" >42.0</text>
<text x="309.80" y="117.37" font-size="8.3" text-anchor="end" font-weight="normal" font-style="normal" fill="#1a1a1a" stroke="#1a1a1a" stroke-width="0.12" >46.0</text>
<line x1="334.00" y1="115.30" x2="438.50" y2="148.50" stroke="#222" stroke-width="1" stroke-dasharray="3.2 2.2"/>
<line x1="420.00" y1="141.70" x2="491.40" y2="141.70" stroke="#222" stroke-width="1" stroke-dasharray="3.2 2.2"/>
<line x1="478.00" y1="139.30" x2="506.50" y2="172.00" stroke="#222" stroke-width="1" stroke-dasharray="3.2 2.2"/>
<line x1="492.00" y1="166.50" x2="521.70" y2="166.50" stroke="#222" stroke-width="1" stroke-dasharray="3.2 2.2"/>
<line x1="386.8" y1="120.6" x2="386.8" y2="128.0" stroke="#111" stroke-width="1.3"/>
<path d="M385.1 127.3L388.5 127.3L386.8 130.8Z" fill="#111"/>
<line x1="450.5" y1="126.8" x2="450.5" y2="133.7" stroke="#111" stroke-width="1.3"/>
<path d="M448.8 133.0L452.2 133.0L450.5 136.5Z" fill="#111"/>
<line x1="512.4" y1="151.20000000000002" x2="512.4" y2="158.2" stroke="#111" stroke-width="1.3"/>
<path d="M510.7 157.5L514.1 157.5L512.4 161.0Z" fill="#111"/>
<text x="372.70" y="176.20" font-size="9.6" text-anchor="middle" font-weight="bold" font-style="normal" fill="#b81c1c" stroke="#b81c1c" stroke-width="0.12" >I</text>
<text x="450.00" y="176.20" font-size="9.6" text-anchor="middle" font-weight="bold" font-style="normal" fill="#b81c1c" stroke="#b81c1c" stroke-width="0.12" >II</text>
<text x="487.90" y="115.30" font-size="9.6" text-anchor="middle" font-weight="bold" font-style="normal" fill="#b81c1c" stroke="#b81c1c" stroke-width="0.12" >III</text>
<text x="523.60" y="115.30" font-size="9.6" text-anchor="middle" font-weight="bold" font-style="normal" fill="#b81c1c" stroke="#b81c1c" stroke-width="0.12" >IV</text>
<text x="422.30" y="153.60" font-size="11" text-anchor="middle" font-weight="normal" font-style="italic" fill="#1a1a1a" stroke="#1a1a1a" stroke-width="0.12" >cac</text>
<text x="480.30" y="179.00" font-size="10.8" text-anchor="start" font-weight="normal" font-style="italic" fill="#1a1a1a" stroke="#1a1a1a" stroke-width="0.12" >cmc<tspan font-size="6.8" dy="-4">p</tspan></text>
<path d="M341.52 115.01L344.82 118.31L341.52 121.61L338.22 118.31Z" fill="#74c63c" stroke="#3a5a2a" stroke-width="0.9"/>
<path d="M359.04 121.05L362.34 124.35L359.04 127.65L355.74 124.35Z" fill="#74c63c" stroke="#3a5a2a" stroke-width="0.9"/>
<path d="M376.05 128.18L379.35 131.48L376.05 134.78L372.75 131.48Z" fill="#74c63c" stroke="#3a5a2a" stroke-width="0.9"/>
<path d="M393.57 132.57L396.87 135.87L393.57 139.17L390.27 135.87Z" fill="#74c63c" stroke="#3a5a2a" stroke-width="0.9"/>
<path d="M410.58 135.31L413.88 138.61L410.58 141.91L407.28 138.61Z" fill="#74c63c" stroke="#3a5a2a" stroke-width="0.9"/>
<path d="M427.60 140.25L430.90 143.55L427.60 146.85L424.30 143.55Z" fill="#74c63c" stroke="#3a5a2a" stroke-width="0.9"/>
<path d="M443.86 138.60L447.16 141.90L443.86 145.20L440.56 141.90Z" fill="#74c63c" stroke="#3a5a2a" stroke-width="0.9"/>
<path d="M453.37 138.05L456.67 141.35L453.37 144.65L450.07 141.35Z" fill="#74c63c" stroke="#3a5a2a" stroke-width="0.9"/>
<path d="M461.13 135.86L464.43 139.16L461.13 142.46L457.83 139.16Z" fill="#74c63c" stroke="#3a5a2a" stroke-width="0.9"/>
<path d="M470.14 134.76L473.44 138.06L470.14 141.36L466.84 138.06Z" fill="#74c63c" stroke="#3a5a2a" stroke-width="0.9"/>
<path d="M479.64 138.05L482.94 141.35L479.64 144.65L476.34 141.35Z" fill="#74c63c" stroke="#3a5a2a" stroke-width="0.9"/>
<path d="M486.40 147.38L489.70 150.68L486.40 153.98L483.10 150.68Z" fill="#74c63c" stroke="#3a5a2a" stroke-width="0.9"/>
<path d="M490.90 152.31L494.20 155.61L490.90 158.91L487.60 155.61Z" fill="#74c63c" stroke="#3a5a2a" stroke-width="0.9"/>
<path d="M495.91 156.70L499.21 160.00L495.91 163.30L492.61 160.00Z" fill="#74c63c" stroke="#3a5a2a" stroke-width="0.9"/>
<path d="M501.16 161.09L504.46 164.39L501.16 167.69L497.86 164.39Z" fill="#74c63c" stroke="#3a5a2a" stroke-width="0.9"/>
<path d="M505.92 162.74L509.22 166.04L505.92 169.34L502.62 166.04Z" fill="#74c63c" stroke="#3a5a2a" stroke-width="0.9"/>
<path d="M510.17 163.01L513.47 166.31L510.17 169.61L506.87 166.31Z" fill="#74c63c" stroke="#3a5a2a" stroke-width="0.9"/>
<path d="M515.43 162.74L518.73 166.04L515.43 169.34L512.13 166.04Z" fill="#74c63c" stroke="#3a5a2a" stroke-width="0.9"/>
<path d="M519.68 161.64L522.98 164.94L519.68 168.24L516.38 164.94Z" fill="#74c63c" stroke="#3a5a2a" stroke-width="0.9"/>
<rect x="317.00" y="186.50" width="100.00" height="78.60" fill="#f1f1f1"/>
<rect x="498.20" y="186.50" width="17.80" height="78.60" fill="#f1f1f1"/>
<rect x="317.00" y="186.50" width="225.20" height="78.60" fill="none" stroke="#7a7a7a" stroke-width="1.0"/>
<line x1="314.50" y1="265.10" x2="317.00" y2="265.10" stroke="#7a7a7a" stroke-width="0.8"/><line x1="314.50" y1="253.01" x2="317.00" y2="253.01" stroke="#7a7a7a" stroke-width="0.8"/><line x1="314.50" y1="240.92" x2="317.00" y2="240.92" stroke="#7a7a7a" stroke-width="0.8"/><line x1="314.50" y1="228.82" x2="317.00" y2="228.82" stroke="#7a7a7a" stroke-width="0.8"/><line x1="314.50" y1="216.73" x2="317.00" y2="216.73" stroke="#7a7a7a" stroke-width="0.8"/><line x1="314.50" y1="204.64" x2="317.00" y2="204.64" stroke="#7a7a7a" stroke-width="0.8"/><line x1="314.50" y1="192.55" x2="317.00" y2="192.55" stroke="#7a7a7a" stroke-width="0.8"/>
<line x1="317.00" y1="265.10" x2="317.00" y2="267.60" stroke="#7a7a7a" stroke-width="0.8"/><line x1="329.51" y1="265.10" x2="329.51" y2="267.60" stroke="#7a7a7a" stroke-width="0.8"/><line x1="342.02" y1="265.10" x2="342.02" y2="267.60" stroke="#7a7a7a" stroke-width="0.8"/><line x1="354.53" y1="265.10" x2="354.53" y2="267.60" stroke="#7a7a7a" stroke-width="0.8"/><line x1="367.04" y1="265.10" x2="367.04" y2="267.60" stroke="#7a7a7a" stroke-width="0.8"/><line x1="379.56" y1="265.10" x2="379.56" y2="267.60" stroke="#7a7a7a" stroke-width="0.8"/><line x1="392.07" y1="265.10" x2="392.07" y2="267.60" stroke="#7a7a7a" stroke-width="0.8"/><line x1="404.58" y1="265.10" x2="404.58" y2="267.60" stroke="#7a7a7a" stroke-width="0.8"/><line x1="417.09" y1="265.10" x2="417.09" y2="267.60" stroke="#7a7a7a" stroke-width="0.8"/><line x1="429.60" y1="265.10" x2="429.60" y2="267.60" stroke="#7a7a7a" stroke-width="0.8"/><line x1="442.11" y1="265.10" x2="442.11" y2="267.60" stroke="#7a7a7a" stroke-width="0.8"/><line x1="454.62" y1="265.10" x2="454.62" y2="267.60" stroke="#7a7a7a" stroke-width="0.8"/><line x1="467.13" y1="265.10" x2="467.13" y2="267.60" stroke="#7a7a7a" stroke-width="0.8"/><line x1="479.64" y1="265.10" x2="479.64" y2="267.60" stroke="#7a7a7a" stroke-width="0.8"/><line x1="492.16" y1="265.10" x2="492.16" y2="267.60" stroke="#7a7a7a" stroke-width="0.8"/><line x1="504.67" y1="265.10" x2="504.67" y2="267.60" stroke="#7a7a7a" stroke-width="0.8"/><line x1="517.18" y1="265.10" x2="517.18" y2="267.60" stroke="#7a7a7a" stroke-width="0.8"/><line x1="529.69" y1="265.10" x2="529.69" y2="267.60" stroke="#7a7a7a" stroke-width="0.8"/><line x1="542.20" y1="265.10" x2="542.20" y2="267.60" stroke="#7a7a7a" stroke-width="0.8"/>
<text x="309.80" y="268.00" font-size="8.3" text-anchor="end" font-weight="normal" font-style="normal" fill="#1a1a1a" stroke="#1a1a1a" stroke-width="0.12" >34.0</text>
<text x="309.80" y="243.82" font-size="8.3" text-anchor="end" font-weight="normal" font-style="normal" fill="#1a1a1a" stroke="#1a1a1a" stroke-width="0.12" >38.0</text>
<text x="309.80" y="219.63" font-size="8.3" text-anchor="end" font-weight="normal" font-style="normal" fill="#1a1a1a" stroke="#1a1a1a" stroke-width="0.12" >42.0</text>
<text x="309.80" y="195.45" font-size="8.3" text-anchor="end" font-weight="normal" font-style="normal" fill="#1a1a1a" stroke="#1a1a1a" stroke-width="0.12" >46.0</text>
<line x1="330.00" y1="203.50" x2="428.00" y2="226.00" stroke="#222" stroke-width="1" stroke-dasharray="3.2 2.2"/>
<line x1="423.00" y1="225.40" x2="492.00" y2="225.40" stroke="#222" stroke-width="1" stroke-dasharray="3.2 2.2"/>
<line x1="497.00" y1="217.30" x2="519.00" y2="261.00" stroke="#222" stroke-width="1" stroke-dasharray="3.2 2.2"/>
<line x1="507.70" y1="253.80" x2="538.40" y2="252.20" stroke="#222" stroke-width="1" stroke-dasharray="3.2 2.2"/>
<line x1="387.3" y1="202.8" x2="387.3" y2="209.0" stroke="#111" stroke-width="1.3"/>
<path d="M385.6 208.3L389.0 208.3L387.3 211.8Z" fill="#111"/>
<line x1="452.7" y1="209.70000000000002" x2="452.7" y2="214.8" stroke="#111" stroke-width="1.3"/>
<path d="M451.0 214.10000000000002L454.4 214.10000000000002L452.7 217.60000000000002Z" fill="#111"/>
<line x1="527.2" y1="238.10000000000002" x2="527.2" y2="245.1" stroke="#111" stroke-width="1.3"/>
<path d="M525.5 244.4L528.9000000000001 244.4L527.2 247.9Z" fill="#111"/>
<text x="366.80" y="261.60" font-size="9.6" text-anchor="middle" font-weight="bold" font-style="normal" fill="#b81c1c" stroke="#b81c1c" stroke-width="0.12" >I</text>
<text x="463.40" y="261.30" font-size="9.6" text-anchor="middle" font-weight="bold" font-style="normal" fill="#b81c1c" stroke="#b81c1c" stroke-width="0.12" >II</text>
<text x="507.00" y="198.10" font-size="9.6" text-anchor="middle" font-weight="bold" font-style="normal" fill="#b81c1c" stroke="#b81c1c" stroke-width="0.12" >III</text>
<text x="529.30" y="198.10" font-size="9.6" text-anchor="middle" font-weight="bold" font-style="normal" fill="#b81c1c" stroke="#b81c1c" stroke-width="0.12" >IV</text>
<text x="418.10" y="238.00" font-size="11" text-anchor="middle" font-weight="normal" font-style="italic" fill="#1a1a1a" stroke="#1a1a1a" stroke-width="0.12" >cac</text>
<text x="486.50" y="263.00" font-size="10.8" text-anchor="start" font-weight="normal" font-style="italic" fill="#1a1a1a" stroke="#1a1a1a" stroke-width="0.12" >cmc<tspan font-size="6.8" dy="-4">p</tspan></text>
<path d="M341.52 203.15L344.82 206.45L341.52 209.75L338.22 206.45Z" fill="#1d3a12" stroke="#14260c" stroke-width="0.9"/>
<path d="M358.04 209.20L361.34 212.50L358.04 215.80L354.74 212.50Z" fill="#1d3a12" stroke="#14260c" stroke-width="0.9"/>
<path d="M375.80 212.22L379.10 215.52L375.80 218.82L372.50 215.52Z" fill="#1d3a12" stroke="#14260c" stroke-width="0.9"/>
<path d="M393.32 215.24L396.62 218.54L393.32 221.84L390.02 218.54Z" fill="#1d3a12" stroke="#14260c" stroke-width="0.9"/>
<path d="M410.58 218.87L413.88 222.17L410.58 225.47L407.28 222.17Z" fill="#1d3a12" stroke="#14260c" stroke-width="0.9"/>
<path d="M427.85 221.90L431.15 225.20L427.85 228.50L424.55 225.20Z" fill="#1d3a12" stroke="#14260c" stroke-width="0.9"/>
<path d="M444.11 220.08L447.41 223.38L444.11 226.68L440.81 223.38Z" fill="#1d3a12" stroke="#14260c" stroke-width="0.9"/>
<path d="M453.87 221.29L457.17 224.59L453.87 227.89L450.57 224.59Z" fill="#1d3a12" stroke="#14260c" stroke-width="0.9"/>
<path d="M462.63 221.29L465.93 224.59L462.63 227.89L459.33 224.59Z" fill="#1d3a12" stroke="#14260c" stroke-width="0.9"/>
<path d="M473.89 220.69L477.19 223.99L473.89 227.29L470.59 223.99Z" fill="#1d3a12" stroke="#14260c" stroke-width="0.9"/>
<path d="M482.90 220.08L486.20 223.38L482.90 226.68L479.60 223.38Z" fill="#1d3a12" stroke="#14260c" stroke-width="0.9"/>
<path d="M492.66 222.50L495.96 225.80L492.66 229.10L489.36 225.80Z" fill="#1d3a12" stroke="#14260c" stroke-width="0.9"/>
<path d="M499.16 223.10L502.46 226.40L499.16 229.70L495.86 226.40Z" fill="#1d3a12" stroke="#14260c" stroke-width="0.9"/>
<path d="M506.92 229.15L510.22 232.45L506.92 235.75L503.62 232.45Z" fill="#1d3a12" stroke="#14260c" stroke-width="0.9"/>
<path d="M512.17 243.06L515.47 246.36L512.17 249.66L508.87 246.36Z" fill="#1d3a12" stroke="#14260c" stroke-width="0.9"/>
<path d="M516.93 250.31L520.23 253.61L516.93 256.91L513.63 253.61Z" fill="#1d3a12" stroke="#14260c" stroke-width="0.9"/>
<path d="M519.43 248.80L522.73 252.10L519.43 255.40L516.13 252.10Z" fill="#1d3a12" stroke="#14260c" stroke-width="0.9"/>
<path d="M522.18 248.50L525.48 251.80L522.18 255.10L518.88 251.80Z" fill="#1d3a12" stroke="#14260c" stroke-width="0.9"/>
<path d="M527.69 249.41L530.99 252.71L527.69 256.01L524.39 252.71Z" fill="#1d3a12" stroke="#14260c" stroke-width="0.9"/>
<path d="M532.94 249.59L536.24 252.89L532.94 256.19L529.64 252.89Z" fill="#1d3a12" stroke="#14260c" stroke-width="0.9"/>
<text x="317.00" y="277.60" font-size="8" text-anchor="middle" font-weight="normal" font-style="normal" fill="#1a1a1a" stroke="#1a1a1a" stroke-width="0.12" >-7.0</text>
<text x="342.02" y="277.60" font-size="8" text-anchor="middle" font-weight="normal" font-style="normal" fill="#1a1a1a" stroke="#1a1a1a" stroke-width="0.12" >-6.0</text>
<text x="367.04" y="277.60" font-size="8" text-anchor="middle" font-weight="normal" font-style="normal" fill="#1a1a1a" stroke="#1a1a1a" stroke-width="0.12" >-5.0</text>
<text x="392.07" y="277.60" font-size="8" text-anchor="middle" font-weight="normal" font-style="normal" fill="#1a1a1a" stroke="#1a1a1a" stroke-width="0.12" >-4.0</text>
<text x="417.09" y="277.60" font-size="8" text-anchor="middle" font-weight="normal" font-style="normal" fill="#1a1a1a" stroke="#1a1a1a" stroke-width="0.12" >-3.0</text>
<text x="442.11" y="277.60" font-size="8" text-anchor="middle" font-weight="normal" font-style="normal" fill="#1a1a1a" stroke="#1a1a1a" stroke-width="0.12" >-2.0</text>
<text x="467.13" y="277.60" font-size="8" text-anchor="middle" font-weight="normal" font-style="normal" fill="#1a1a1a" stroke="#1a1a1a" stroke-width="0.12" >-1.0</text>
<text x="492.16" y="277.60" font-size="8" text-anchor="middle" font-weight="normal" font-style="normal" fill="#1a1a1a" stroke="#1a1a1a" stroke-width="0.12" >0.0</text>
<text x="517.18" y="277.60" font-size="8" text-anchor="middle" font-weight="normal" font-style="normal" fill="#1a1a1a" stroke="#1a1a1a" stroke-width="0.12" >1.0</text>
<text x="542.20" y="277.60" font-size="8" text-anchor="middle" font-weight="normal" font-style="normal" fill="#1a1a1a" stroke="#1a1a1a" stroke-width="0.12" >2.0</text>
<text x="513.80" y="289.90" font-size="9.8" text-anchor="middle" font-weight="normal" font-style="normal" fill="#1a1a1a" stroke="#1a1a1a" stroke-width="0.12" >ln (<tspan font-style="italic">m</tspan><tspan font-size="6.2" dy="1.5">s</tspan><tspan dy="-1.5">/mmol·kg</tspan><tspan font-size="6.2" dy="-3.3">-1</tspan><tspan dy="3.3">)</tspan></text>
<g transform="translate(288 144.3) rotate(-90)"><text x="0.00" y="0.00" font-size="10.2" text-anchor="middle" font-weight="normal" font-style="normal" fill="#1a1a1a" stroke="#1a1a1a" stroke-width="0.12" ><tspan font-style="italic">γ</tspan> / mN·m<tspan font-size="6.3" dy="-3.4">-1</tspan></text></g>
</svg></body></html>
